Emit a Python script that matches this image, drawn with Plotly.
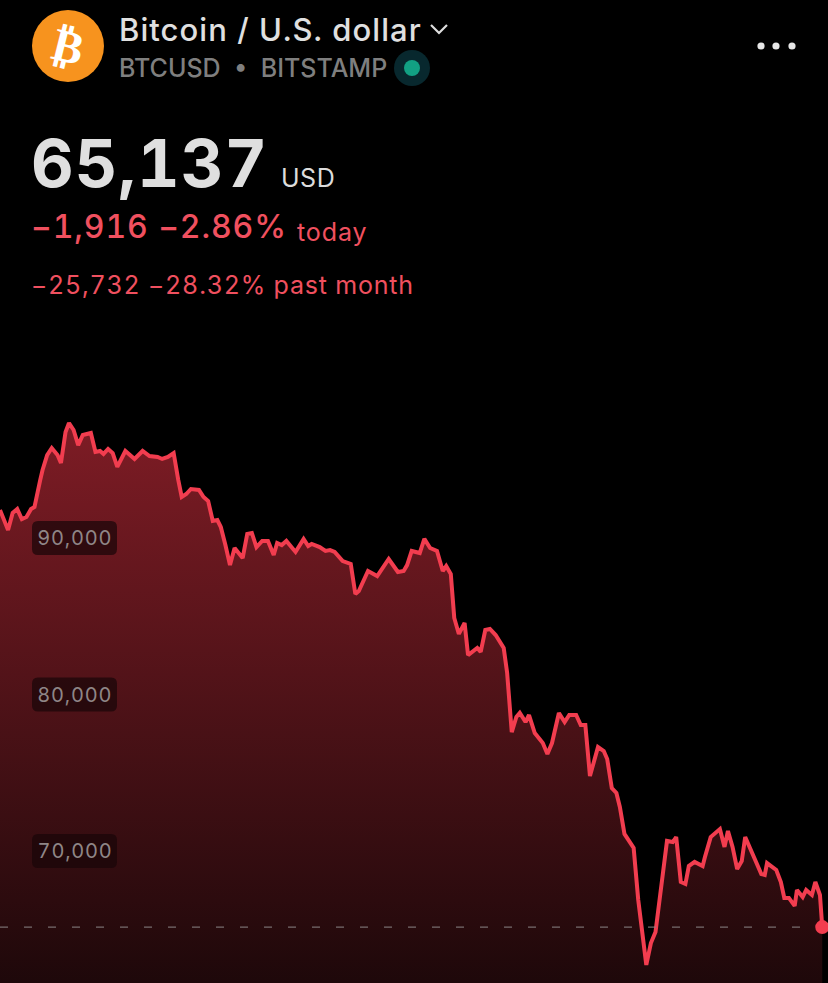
import plotly.graph_objects as go

hours = [0,7,11,15,19,23,27,30,35,37,41,45,50,53,57,60,64,68,72,79,83,87,90,94,98,102,109,117,124,130,137,141,146,151,155,158,162,166,173,177,181,185,189,192,196,200,204,211,215,219,223,228,233,238,241,
245,249,257,264,268,271,278,283,287,291,298,305,309,312,320,328,338,346,351,354,358,365,369,374,380,385,388,392,395,399,404,407,415,418,422,426,431,438,441,445,449,452,457,460,465,472,476,
480,486,491,495,501,505,509,513,520,525,528,532,536,539,543,551,555,562,566,570,580,585,588,592,596,599,604,611,613,618,626,630,633,637,641,645,648,653,662,665,667,675,679,682,686,691,693,698,701,706,709,713,715]
prices = [91790,90510,91600,91850,91210,91340,91850,91980,93710,94350,95300,95750,95300,94790,96770,97350,96900,95940,96580,96710,95500,95560,95370,95690,95430,94540,95560,95050,95560,95240,95180,95050,95180,95430,93710,92620,92810,93130,93070,92620,92360,91090,91150,90700,89550,88270,89360,88720,90260,90320,89420,89810,89810,88910,89680,
89550,89810,89110,89940,89490,89620,89420,89170,89230,89110,88530,88340,86420,86610,87890,87570,88660,87830,87890,88270,89170,89040,89940,89360,89170,87890,88210,87700,84890,83870,84570,82520,82970,82720,84120,84190,83800,82970,81370,77600,78560,78820,78240,78690,77540,76900,76200,
76900,78820,78240,78690,78690,78050,78050,74790,76640,76390,75880,74020,73710,72810,71090,70190,66870,62720,64120,64820,70640,70570,70890,68020,67890,69040,69300,69040,69620,70890,71400,70260,71280,70260,68850,69360,70890,70060,68530,68470,69230,68790,68020,67000,67000,66490,67510,67060,67510,67190,68020,67190,65137]
axis_ticks = [90000, 80000, 70000]
tick_labels = ["90,000", "80,000", "70,000"]
last_price = prices[-1]

W, H = 828, 983
FLOOR, CEIL = 61565, 124378
RED = "#f23d4f"
TXT = "#f0505f"

def px(x): return x / W
def py(y): return 1 - y / H

fig = go.Figure()
fig.add_trace(go.Scatter(x=[hours[0], hours[-1]], y=[FLOOR, FLOOR], mode="lines",
                         line=dict(width=0), hoverinfo="skip", showlegend=False))
fig.add_trace(go.Scatter(x=hours, y=prices, mode="lines", fill="tonexty",
                         fillgradient=dict(type="vertical", start=97350, stop=FLOOR,
                                           colorscale=[[0, "#7e1c25"], [1, "#1e080a"]]),
                         line=dict(color=RED, width=4), showlegend=False))
fig.add_trace(go.Scatter(x=[0, 720], y=[last_price, last_price], mode="lines",
                         line=dict(color="#8c8587", width=1, dash="8px,16px"), showlegend=False))
fig.add_trace(go.Scatter(x=[hours[-1]], y=[last_price], mode="markers",
                         marker=dict(color=RED, size=14), showlegend=False))

shapes = []
r = 6
w, h = 85, 34
pill = (f"M {r},{-h/2} L {w-r},{-h/2} Q {w},{-h/2} {w},{-h/2+r} L {w},{h/2-r} Q {w},{h/2} {w-r},{h/2} "
        f"L {r},{h/2} Q 0,{h/2} 0,{h/2-r} L 0,{-h/2+r} Q 0,{-h/2} {r},{-h/2} Z")
for t in axis_ticks:
    shapes.append(dict(type="path", xref="paper", yref="y", xsizemode="pixel", ysizemode="pixel",
                       xanchor=px(32), yanchor=t, path=pill, fillcolor="rgba(25,5,8,0.72)",
                       line=dict(width=0), layer="above"))

def circle(cx, cy, rad, color):
    return dict(type="circle", xref="paper", yref="paper", x0=px(cx - rad), x1=px(cx + rad),
                y0=py(cy + rad), y1=py(cy - rad), fillcolor=color, line=dict(width=0), layer="above")

shapes.append(circle(68, 46, 36, "#f7931e"))
shapes.append(circle(412, 68, 18, "#08282e"))
shapes.append(circle(412, 68, 8, "#12a083"))
for cx in (761, 776, 792):
    shapes.append(circle(cx, 46, 3.6, "#e6e6e6"))
shapes.append(dict(type="path", xref="paper", yref="paper",
                   path=f"M {px(431)},{py(25)} L {px(439)},{py(33)} L {px(447)},{py(25)}",
                   line=dict(color="#dedede", width=2.2), layer="above"))

ann = []
def text(s, x, y, size, color, weight=400, angle=0, anchor="left", family="Inter"):
    ann.append(dict(text=s, xref="paper", yref="paper", x=px(x), y=py(y), xanchor=anchor, yanchor="middle",
                    showarrow=False, textangle=angle, align="left", borderpad=0, borderwidth=0,
                    font=dict(family=family, size=size, color=color, weight=weight)))

text("₿", 68, 46, 46, "#ffffff", 700, 14, "center", "DejaVu Sans")
text("Bitcoin / U.S. dollar", 119, 29, 31, "#e0e0e0", 500)
text("BTCUSD  •  BITSTAMP", 119, 68, 25, "#7f7f7f", 500)
text("65,137", 31, 163, 66, "#dfdfdf", 700)
text("USD", 281, 178, 25, "#dcdcdc", 400)
text("−1,916 −2.86%", 31, 227, 32, TXT, 500)
text("today", 297, 232, 25, TXT, 400)
text("−25,732 −28.32% past month", 31, 285, 25, TXT, 400)

for t, lab in zip(axis_ticks, tick_labels):
    ann.append(dict(text=lab, xref="paper", yref="y", x=px(74.5), y=t, xanchor="center", yanchor="middle",
                    showarrow=False, borderpad=0, borderwidth=0,
                    font=dict(family="Inter", size=20, color="#8f8687")))

fig.update_layout(width=W, height=H, margin=dict(l=0, r=0, t=0, b=0), showlegend=False,
                  paper_bgcolor="#000000", plot_bgcolor="#000000", hovermode=False,
                  shapes=shapes, annotations=ann,
                  xaxis=dict(range=[0, 720], visible=False, fixedrange=True),
                  yaxis=dict(range=[FLOOR, CEIL], visible=False, fixedrange=True))

js = """
document.body.style.margin='0';document.body.style.background='#000';
var sp={'Bitcoin / U.S. dollar':1.05,'65,137':1.0,'−1,916 −2.86%':0.9,'−25,732 −28.32% past month':0.8,'90,000':0.8,'80,000':0.8,'70,000':0.8,'USD':0.5,'today':0.9};
document.querySelectorAll('.annotation-text').forEach(function(t){
  t.style.fontFeatureSettings="'tnum'";
  var k=t.textContent; if(sp[k]) t.style.letterSpacing=sp[k]+'px';
});
"""
fig.write_html("out.html", config={"displayModeBar": False}, post_script=js)
